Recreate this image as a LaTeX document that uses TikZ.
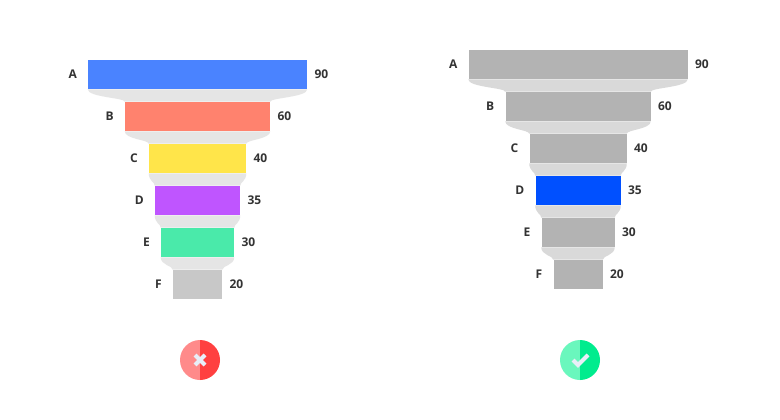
\documentclass[tikz,border=0pt]{standalone}
\usepackage{fontspec}
\setmainfont{Open Sans}
\definecolor{cA}{HTML}{4A83FF}\definecolor{cB}{HTML}{FF826E}\definecolor{cC}{HTML}{FFE54A}
\definecolor{cD}{HTML}{BF55FF}\definecolor{cE}{HTML}{4AEAAA}\definecolor{cF}{HTML}{C8C8C8}
\definecolor{gr}{HTML}{B3B3B3}\definecolor{hl}{HTML}{0050FF}
\definecolor{iconw}{HTML}{E8EEF8}
\definecolor{rL}{HTML}{FF8A8A}\definecolor{rR}{HTML}{FF4040}
\definecolor{gL}{HTML}{6AF7BD}\definecolor{gR}{HTML}{00EC8E}
\newcommand\funnel[5]{%
  \foreach \n/\w/\v/\c [count=\i] in {#5} {
    \pgfmathsetmacro\yy{#3+(\i-1)*42+14.5}
    \node[bar,fill=\c,minimum width=\w*0.75pt] (#1\n) at (#2,\yy) {};
    \node[lbl,anchor=east] (#1l\n) at ([xshift=-8pt]#1\n.west) {\n};
    \node[lbl,anchor=west] (#1v\n) at ([xshift=5.25pt]#1\n.east) {\v};
  }
  \foreach \p/\q in {A/B,B/C,C/D,D/E,E/F}{
    \fill[#4] (#1\p.south west) .. controls ([yshift=-6pt]#1\p.south west) and ([yshift=3pt]#1\q.north west) .. (#1\q.north west)
      -- (#1\q.north east) .. controls ([yshift=3pt]#1\q.north east) and ([yshift=-6pt]#1\p.south east) .. (#1\p.south east) -- cycle;
  }
}
\begin{document}
\begin{tikzpicture}[x=0.75pt,y=-0.75pt,
  bar/.style={draw=none,inner sep=0,minimum height=21.75pt},
  lbl/.style={font=\bfseries\fontsize{9}{10}\selectfont,text=black!80,inner sep=0}]
\fill[white] (0,0) rectangle (780,420);
\funnel{L}{197.5}{60}{black!10}{A/219/90/cA,B/145/60/cB,C/97/40/cC,D/85/35/cD,E/73/30/cE,F/49/20/cF}
\funnel{R}{578}{50}{black!15}{A/219/90/gr,B/145/60/gr,C/97/40/gr,D/85/35/hl,E/73/30/gr,F/49/20/gr}
\fill[rL] (200,340) arc(270:90:20) -- cycle;
\fill[rR] (200,340) arc(-90:90:20) -- cycle;
\node[circle,minimum size=30pt,inner sep=0] (bad) at (200,360) {};
\draw[iconw,line width=3pt] (195,355) -- (205,365) (195,365) -- (205,355);
\fill[gL] (580,340) arc(270:90:20) -- cycle;
\fill[gR] (580,340) arc(-90:90:20) -- cycle;
\node[circle,minimum size=30pt,inner sep=0] (good) at (580,360) {};
\draw[iconw,line width=3pt] (573,360) -- (578,365) -- (588,355);
\end{tikzpicture}
\end{document}
